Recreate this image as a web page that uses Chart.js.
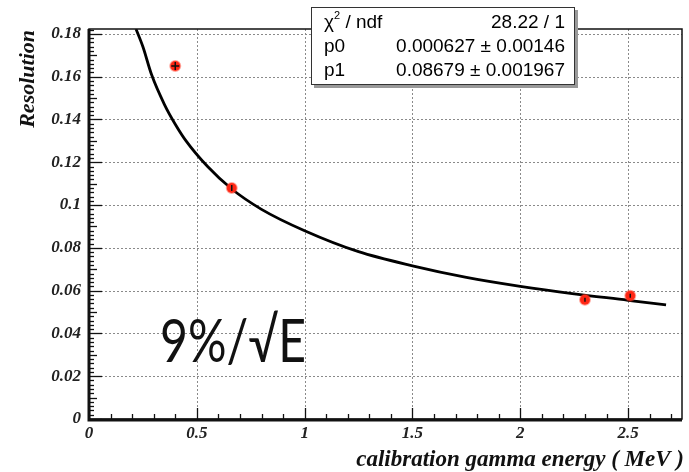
<!DOCTYPE html>
<html>
<head>
<meta charset="utf-8">
<script src="https://cdn.jsdelivr.net/npm/chart.js@4.4.1/dist/chart.umd.min.js"></script>
<style>
  body { margin: 0; background: #fff; }
  #wrap { position: relative; width: 689px; height: 472px; }
  #stats {
    position: absolute; left: 311px; top: 7px; width: 262px; height: 76px;
    border: 1.5px solid #333; background: #fff; box-shadow: 3px 3px 0 #999;
    font-family: "Liberation Sans", Arial, sans-serif; font-size: 19px; color: #000;
  }
  #stats .row { position: absolute; left: 12px; right: 9px; height: 24px; line-height: 24px; white-space: nowrap; }
  #stats .row span { position: absolute; right: 0; top: 0; }
  #stats sup { font-size: 11px; line-height: 0; position: relative; top: -2px; }
</style>
</head>
<body>
<div id="wrap">
  <canvas id="c" width="689" height="472"></canvas>
  <div id="stats">
    <div class="row" style="top:2px">χ<sup>2</sup> / ndf<span>28.22 / 1</span></div>
    <div class="row" style="top:26px">p0<span>0.000627 ± 0.00146</span></div>
    <div class="row" style="top:50px">p1<span>0.08679 ± 0.001967</span></div>
  </div>
</div>
<script>
// measured points (MeV, resolution)
const energy = [0.40, 0.662, 2.30, 2.51];
const resolution = [0.165, 0.108, 0.0557, 0.0576];

// fitted curve
const fitE = [0.218, 0.25, 0.29, 0.35, 0.40, 0.45, 0.55, 0.662, 0.8, 1.0, 1.25, 1.5, 1.75, 2.0, 2.25, 2.5, 2.676];
const fitR = [0.1823, 0.1740, 0.1610, 0.1470, 0.1378, 0.1300, 0.1180, 0.1075, 0.0980, 0.0880, 0.0782, 0.0716, 0.0662, 0.0620, 0.0585, 0.0555, 0.0533];

const xTicks = [0, 0.5, 1, 1.5, 2, 2.5];
const yTicks = [0, 0.02, 0.04, 0.06, 0.08, 0.1, 0.12, 0.14, 0.16, 0.18];

const tickFont = { family: '"Liberation Serif", "Times New Roman", serif', size: 17, style: 'italic', weight: 'bold' };
const fmt = v => String(+Number(v).toFixed(3));

const decor = {
  id: 'decor',
  beforeDatasetsDraw(chart) {
    const { ctx, chartArea: a, scales: { x, y } } = chart;
    ctx.save();
    ctx.strokeStyle = '#8a8a8a';
    ctx.lineWidth = 1;
    ctx.setLineDash([2, 2]);
    xTicks.slice(1).forEach(v => {
      const px = Math.round(x.getPixelForValue(v)) + 0.5;
      ctx.beginPath(); ctx.moveTo(px, a.top); ctx.lineTo(px, a.bottom); ctx.stroke();
    });
    yTicks.slice(1).forEach(v => {
      const py = Math.round(y.getPixelForValue(v)) + 0.5;
      ctx.beginPath(); ctx.moveTo(a.left, py); ctx.lineTo(a.right, py); ctx.stroke();
    });
    ctx.setLineDash([]);
    // inner ticks
    ctx.strokeStyle = '#111';
    ctx.lineWidth = 1.3;
    for (let i = 0; i <= 91; i++) {
      const v = i * 0.002;
      const py = Math.round(y.getPixelForValue(v)) + 0.5;
      if (py < a.top) break;
      const len = i % 10 === 0 ? 13 : (i % 5 === 0 ? 8 : 5);
      ctx.beginPath(); ctx.moveTo(a.left, py); ctx.lineTo(a.left + len, py); ctx.stroke();
    }
    for (let i = 0; i <= 27; i++) {
      const v = i * 0.1;
      const px = Math.round(x.getPixelForValue(v)) + 0.5;
      const len = i % 5 === 0 ? 11 : 5;
      ctx.beginPath(); ctx.moveTo(px, a.bottom); ctx.lineTo(px, a.bottom - len); ctx.stroke();
    }
    ctx.restore();
  },
  afterDraw(chart) {
    const { ctx, chartArea: a } = chart;
    ctx.save();
    // frame
    ctx.strokeStyle = '#111';
    ctx.lineWidth = 1.5;
    ctx.strokeRect(a.left, a.top, a.right - a.left, a.bottom - a.top);
    ctx.lineWidth = 3;
    ctx.beginPath(); ctx.moveTo(a.left, a.top); ctx.lineTo(a.left, a.bottom + 1); ctx.lineTo(a.right, a.bottom + 1); ctx.stroke();
    // axis titles
    ctx.fillStyle = '#111';
    ctx.font = 'italic bold 23px "Liberation Serif", serif';
    ctx.textAlign = 'right';
    ctx.textBaseline = 'alphabetic';
    ctx.fillText('calibration gamma energy ( MeV )', 684, 466);
    ctx.font = 'italic bold 22px "Liberation Serif", serif';
    ctx.translate(34, 30);
    ctx.rotate(-Math.PI / 2);
    ctx.textAlign = 'right';
    ctx.fillText('Resolution', 0, 0);
    ctx.restore();
    // annotation
    ctx.save();
    ctx.font = '400 60px Lato, "DejaVu Sans", sans-serif';
    ctx.textAlign = 'left';
    ctx.textBaseline = 'alphabetic';
    const txt = '9%/\u221AE';
    const w = ctx.measureText(txt).width;
    ctx.translate(160, 362);
    ctx.scale(146 / w, 1);
    ctx.fillStyle = '#111';
    ctx.fillText(txt, 0, 0);
    ctx.restore();
  }
};

new Chart(document.getElementById('c'), {
  type: 'line',
  data: {
    datasets: [
      {
        label: 'errors',
        data: energy.map((e, i) => ({ x: e, y: resolution[i] })),
        showLine: false,
        pointStyle: ['cross', 'line', 'line', 'line'],
        pointRotation: [0, 90, 90, 90],
        pointRadius: [4, 3, 2, 2],
        borderColor: '#111',
        pointBorderWidth: 1.5,
      },
      {
        label: 'data',
        data: energy.map((e, i) => ({ x: e, y: resolution[i] })),
        showLine: false,
        pointRadius: 5,
        pointBackgroundColor: '#ff2614',
        pointBorderColor: 'rgba(255,60,40,0.45)',
        pointBorderWidth: 2,
      },
      {
        label: 'fit',
        data: fitE.map((e, i) => ({ x: e, y: fitR[i] })),
        borderColor: '#000',
        borderWidth: 2.8,
        pointRadius: 0,
        cubicInterpolationMode: 'monotone',
        fill: false,
      },
    ],
  },
  options: {
    responsive: false,
    devicePixelRatio: 1,
    animation: false,
    layout: { padding: { top: 29, right: 6, left: 0, bottom: 0 } },
    plugins: { legend: { display: false }, tooltip: { enabled: false } },
    scales: {
      x: {
        type: 'linear', min: 0, max: 2.75,
        afterFit: s => { s.height = 53; },
        afterBuildTicks: s => { s.ticks = xTicks.map(v => ({ value: v })); },
        grid: { display: false, tickLength: 0 },
        border: { display: false },
        ticks: { font: tickFont, color: '#222', padding: 4, maxRotation: 0, callback: fmt },
      },
      y: {
        type: 'linear', min: 0, max: 0.1823,
        afterFit: s => { s.width = 89; },
        afterBuildTicks: s => { s.ticks = yTicks.map(v => ({ value: v })); },
        grid: { display: false, tickLength: 0 },
        border: { display: false },
        ticks: { font: tickFont, color: '#222', padding: 8, callback: fmt },
      },
    },
  },
  plugins: [decor],
});
</script>
</body>
</html>
